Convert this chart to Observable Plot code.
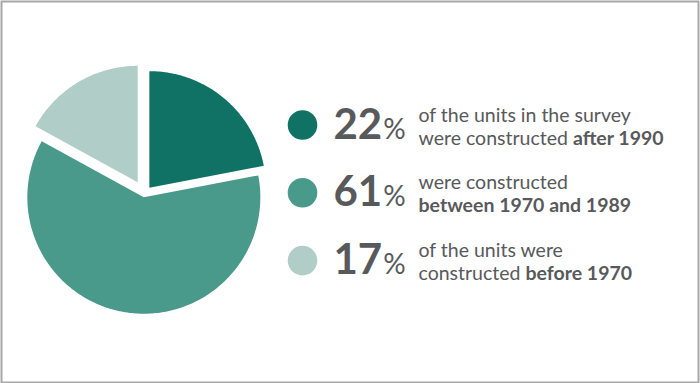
<!DOCTYPE html>
<html>
<head>
<meta charset="utf-8">
<script src="https://cdn.jsdelivr.net/npm/d3@7"></script>
<script src="https://cdn.jsdelivr.net/npm/@observablehq/plot@0.6"></script>
<style>
  html, body { margin: 0; padding: 0; background: #ffffff; }
  #chart { width: 700px; height: 383px; }
</style>
</head>
<body>
<div id="chart"></div>
<script>
// ---- Data ----
const categories = ["Built after 1990", "Built 1970–1989", "Built before 1970"];
const shares = [22, 61, 17];
const colors = ["#0f7264", "#4a9a8b", "#b0cdc7"];
const firstLines = ["of the units in the survey", "were constructed", "of the units were"];
const secondLinePlain = ["were constructed ", "", "constructed "];
const secondLineBold = ["after 1990", "between 1970 and 1989", "before 1970"];

// ---- Layout constants ----
const W = 700, H = 383;
const pieCx = 143.9, pieCy = 193.2, pieR = 116.5;
const explode = [7.8, 3.6, 13.2];
const rowY0 = 124.5, rowStep = 67.8;
const dotX = 302, dotR = 14.8, numX = 333, textX = 418;
const textColor = "#58595b";
const bodySize = 19.5;

// ---- Pie geometry from data ----
const arcs = d3.pie().sort(null).value(d => d)(shares);
const slicePoints = [];
arcs.forEach((a, i) => {
  const mid = (a.startAngle + a.endAngle) / 2;
  const ox = pieCx + explode[i] * Math.sin(mid);
  const oy = pieCy - explode[i] * Math.cos(mid);
  const key = categories[i];
  slicePoints.push({key, x: ox, y: oy});
  const n = Math.max(8, Math.ceil((a.endAngle - a.startAngle) / (Math.PI / 180)));
  for (let k = 0; k <= n; k++) {
    const t = a.startAngle + (a.endAngle - a.startAngle) * k / n;
    slicePoints.push({key, x: ox + pieR * Math.sin(t), y: oy - pieR * Math.cos(t)});
  }
  slicePoints.push({key, x: ox, y: oy});
});

// ---- Legend rows ----
const rows = categories.map((key, i) => ({key, i, share: shares[i], cy: rowY0 + i * rowStep}));

// Rich text fragments (mixed weights in one line)
const rich = new Map();
rows.forEach(r => {
  rich.set(`${r.share}%`, [
    {text: String(r.share), weight: "bold", size: 42},
    {text: "%", weight: "normal", size: 28, dx: 1}
  ]);
  const i = r.i;
  rich.set(secondLinePlain[i] + secondLineBold[i], [
    {text: secondLinePlain[i], weight: "normal", size: bodySize},
    {text: secondLineBold[i], weight: "bold", size: bodySize}
  ]);
});

const chart = Plot.plot({
  width: W,
  height: H,
  margin: 0,
  x: {domain: [0, W], range: [0, W], axis: null},
  y: {domain: [0, H], range: [0, H], axis: null},
  color: {domain: categories, range: colors},
  style: {fontFamily: "Lato, 'Open Sans', sans-serif", background: "#ffffff", color: textColor},
  marks: [
    Plot.frame({stroke: "#a8a8a8", strokeWidth: 2, inset: 1, insetRight: 2}),
    Plot.line(slicePoints, {x: "x", y: "y", z: "key", fill: "key", stroke: "none", curve: "linear"}),
    Plot.dot(rows, {x: () => dotX, y: "cy", r: dotR, fill: "key", stroke: "none"}),
    Plot.text(rows, {
      x: () => numX, y: d => d.cy + 13.5, text: d => `${d.share}%`,
      textAnchor: "start", lineAnchor: "bottom", fontSize: 42, fontWeight: "bold", fill: textColor
    }),
    Plot.text(rows, {
      x: () => textX, y: d => d.cy - 3.5, text: d => firstLines[d.i],
      textAnchor: "start", lineAnchor: "bottom", fontSize: bodySize, fill: textColor,
      style: {letterSpacing: "0.15px"}
    }),
    Plot.text(rows, {
      x: () => textX, y: d => d.cy + 19.5, text: d => secondLinePlain[d.i] + secondLineBold[d.i],
      textAnchor: "start", lineAnchor: "bottom", fontSize: bodySize, fill: textColor
    })
  ]
});

// Split mixed-weight labels into tspans
chart.querySelectorAll("text").forEach(node => {
  const parts = rich.get(node.textContent);
  if (!parts) return;
  node.textContent = "";
  node.setAttribute("xml:space", "preserve");
  node.style.whiteSpace = "pre";
  parts.forEach(p => {
    if (!p.text) return;
    const ts = document.createElementNS("http://www.w3.org/2000/svg", "tspan");
    ts.textContent = p.text;
    ts.setAttribute("font-weight", p.weight);
    ts.setAttribute("font-size", p.size);
    if (p.dx) ts.setAttribute("dx", p.dx);
    node.appendChild(ts);
  });
});

document.getElementById("chart").appendChild(chart);
</script>
</body>
</html>
